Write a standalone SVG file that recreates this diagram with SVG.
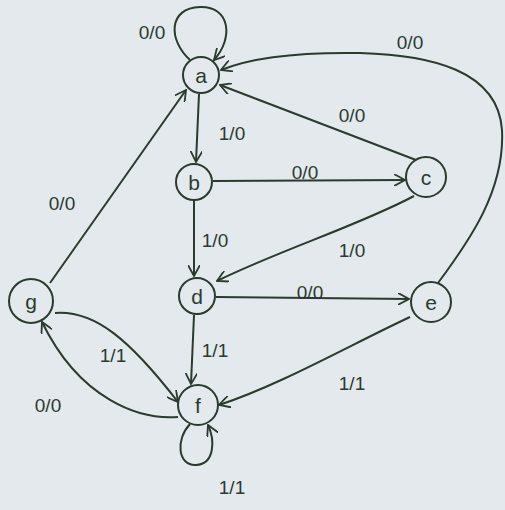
<svg xmlns="http://www.w3.org/2000/svg" width="505" height="510" viewBox="0 0 505 510">
<style>
.bg{fill:#e3e9ed}
.n{fill:none;stroke:#2b3a2f;stroke-width:2}
.e{fill:none;stroke:#2b3a2f;stroke-width:2;marker-end:url(#ar)}
.t{font-family:"Liberation Sans",Arial,sans-serif;font-size:21px;fill:#2b3a2f;text-anchor:middle;dominant-baseline:central}
.l{font-family:"Liberation Sans",Arial,sans-serif;font-size:19px;fill:#2b3a2f;text-anchor:middle;dominant-baseline:central}
</style>
<defs>
<marker id="ar" viewBox="0 0 12 12" refX="11" refY="6" markerWidth="12" markerHeight="12" markerUnits="userSpaceOnUse" orient="auto">
<path d="M0,0 L11,6 L0,12" fill="none" stroke="#2b3a2f" stroke-width="1.8"/>
</marker>
</defs>
<rect class="bg" x="0" y="0" width="505" height="510"/>
<g id="connectors">
<path class="e" d="M190,60 C168,40 168,8 200,7 C230,6 234,38 214,60"/>
<path class="e" d="M199,94 L196,162"/>
<path class="e" d="M213,181 L405,180"/>
<path class="e" d="M416,160 L220,85"/>
<path class="e" d="M438,283 C470,240 505,190 502,130 C498,70 430,55 360,53 C300,52 250,58 221,70"/>
<path class="e" d="M194,201 L194,276"/>
<path class="e" d="M414,196 C360,225 280,250 217,281"/>
<path class="e" d="M216,297 L409,299"/>
<path class="e" d="M194,315 L191,384"/>
<path class="e" d="M410,317 C350,345 280,385 219,405"/>
<path class="e" d="M50,283 L186,90"/>
<path class="e" d="M55,313 C95,310 130,340 178,402"/>
<path class="e" d="M178,417 C140,420 80,400 42,322"/>
<path class="e" d="M190,424 C175,440 178,466 196,465 C215,464 215,440 208,425"/>
<text class="l" x="152" y="32">0/0</text>
<text class="l" x="232" y="133">1/0</text>
<text class="l" x="305" y="172">0/0</text>
<text class="l" x="352" y="115">0/0</text>
<text class="l" x="410" y="42">0/0</text>
<text class="l" x="215" y="240">1/0</text>
<text class="l" x="352" y="250">1/0</text>
<text class="l" x="310" y="292">0/0</text>
<text class="l" x="215" y="350">1/1</text>
<text class="l" x="352" y="383">1/1</text>
<text class="l" x="62" y="203">0/0</text>
<text class="l" x="113" y="355">1/1</text>
<text class="l" x="48" y="405">0/0</text>
<text class="l" x="232" y="487">1/1</text>
</g>
<g id="a"><circle class="n" cx="201" cy="75" r="18"/><text class="t" x="201" y="75">a</text></g>
<g id="b"><circle class="n" cx="194" cy="182" r="18"/><text class="t" x="194" y="182">b</text></g>
<g id="c"><circle class="n" cx="426" cy="177" r="20"/><text class="t" x="426" y="177">c</text></g>
<g id="d"><circle class="n" cx="197" cy="296" r="18"/><text class="t" x="197" y="296">d</text></g>
<g id="e"><circle class="n" cx="431" cy="302" r="20"/><text class="t" x="431" y="302">e</text></g>
<g id="f"><circle class="n" cx="198" cy="405" r="20"/><text class="t" x="198" y="405">f</text></g>
<g id="g"><circle class="n" cx="31" cy="301" r="22"/><text class="t" x="31" y="301">g</text></g>
</svg>
